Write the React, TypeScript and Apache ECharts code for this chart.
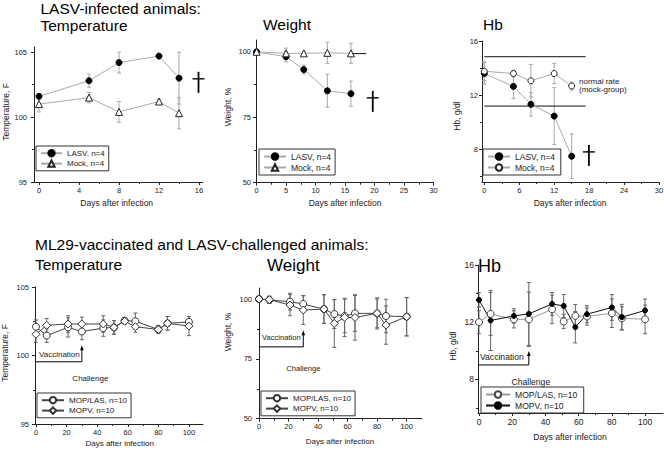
import React, { useEffect, useRef } from 'react';
import * as echarts from 'echarts';

// ---------- Top row: LASV-infected animals ----------
const tempDays = [0, 5, 8, 12, 14];
const tempLASV = [101.6, 102.8, 104.2, 104.7, 103.0];
const tempLASVErr = [0.2, 0.5, 0.8, 0.2, 2.0];
const tempMock = [101.0, 101.5, 100.4, 101.2, 100.3];
const tempMockErr = [0.6, 0.4, 0.8, 0.15, 1.2];
const tempDagger = [[15.95, 102.95]];

const weightDays = [0, 5, 8, 12, 16];
const weightLASV = [100, 98.1, 93.2, 85.1, 84.0];
const weightLASVErr = [0, 2.0, 1.7, 6.3, 4.8];
const weightMock = [100, 99.4, 99.4, 99.6, 99.4];
const weightMockErr = [0, 2.0, 0.6, 4.0, 3.8];
const weightDagger = [[19.7, 82.4]];
const weightRefLines = [[16, 18.6, 99.3]];

const hbDays = [0, 5, 8, 12, 15];
const hbLASV = [13.6, 12.65, 11.33, 10.46, 7.5];
const hbLASVErr = [0.8, 0.9, 0.87, 2.1, 1.65];
const hbMock = [13.77, 13.6, 13.07, 13.6, 12.68];
const hbMockErr = [0.7, 0.25, 1.2, 0.75, 0.3];
const hbDagger = [[17.96, 7.82]];
const hbRefLines = [[0, 17.4, 14.84], [0, 17.4, 11.2]];

// ---------- Bottom row: ML29-vaccinated and LASV-challenged ----------
const vDays = [0, 7, 21, 30, 44, 51, 58, 65, 80, 86, 100];
const vTempMOPLAS = [102.1, 101.45, 102.05, 101.75, 102.0, 102.05, 102.55, 102.5, 101.9, 102.35, 102.45];
const vTempMOPLASErr = [0.5, 0.5, 0.7, 0.6, 0.6, 0.5, 0.2, 0.6, 0.3, 0.5, 0.4];
const vTempMOPV = [101.55, 102.2, 102.3, 102.3, 102.3, 102.05, 102.5, 102.1, 101.9, 102.35, 102.15];
const vTempMOPVErr = [0.6, 0.5, 0.6, 0.5, 0.6, 0.5, 0.2, 0.4, 0.25, 0.5, 0.7];
const vTempAnnot = [[0, 30, 99.54, 100.75]];

const vWeightMOPLAS = [100, 99.6, 98.9, 97.9, 95.8, 93.7, 92.9, 94.0, 94.0, 92.9, 92.6];
const vWeightMOPLASErr = [0.3, 1.5, 3.5, 3.5, 6, 6, 7, 7.5, 6, 7, 8];
const vWeightMOPV = [100, 99.7, 97.5, 95.4, 95.8, 89.8, 92.3, 92.3, 94.0, 89.1, 92.6];
const vWeightMOPVErr = [0.3, 1.5, 4.5, 6, 6, 10, 8, 9.5, 6.5, 8, 8];
const vWeightAnnot = [[0, 30, 80.0, 87.0]];

const vHbMOPLAS = [12.0, 12.58, 12.2, 12.2, 12.9, 12.05, 12.44, 12.4, 12.63, 12.28, 12.2];
const vHbMOPLASErr = [0.8, 1.5, 0.6, 1.9, 1.0, 0.5, 0.8, 0.6, 1.0, 0.8, 1.0];
const vHbMOPV = [13.56, 12.12, 12.44, 12.58, 13.28, 13.14, 11.65, 12.56, 13.03, 12.35, 12.82];
const vHbMOPVErr = [0.5, 2.1, 0.5, 2.2, 0.8, 0.8, 1.1, 0.6, 0.9, 0.9, 0.8];
const vHbAnnot = [[0, 30, 9.01, 9.99]];

// ---------- Tick labels ----------
const tlXTicks = [0, 4, 8, 12, 16];
const tlXMinor = [2, 6, 10, 14];
const tmXTicks = [0, 5, 10, 15, 20, 25, 30];
const tmXMinor = [2.5, 7.5, 12.5, 17.5, 22.5, 27.5];
const trXTicks = [0, 6, 12, 18, 24, 30];
const trXMinor = [3, 9, 15, 21, 27];
const bXTicks = [0, 20, 40, 60, 80, 100];
const bXMinor = [10, 30, 50, 70, 90];
const tempYTicks = [95, 100, 105];
const tempYMinor = [97.5, 102.5];
const weightYTicks = [50, 75, 100];
const weightYMinor = [62.5, 87.5];
const hbYTicks = [8, 12, 16];
const hbYMinor = [6, 10, 14];

const FONT = '"Liberation Sans", Arial, Helvetica, sans-serif';
const TXT = '#1a1a1a';

const panels = [
  { grid: { left: 34, top: 47, width: 169, height: 135 }, x: { min: -0.5, max: 16.4, ticks: tlXTicks, minor: tlXMinor }, y: { min: 95, max: 105.4, ticks: tempYTicks, minor: tempYMinor }, yMargin: 7, fs: 7.5 },
  { grid: { left: 256, top: 40, width: 177.5, height: 142.7 }, x: { min: -0.1, max: 30, ticks: tmXTicks, minor: tmXMinor }, y: { min: 50, max: 104.5, ticks: weightYTicks, minor: weightYMinor }, yMargin: 5, fs: 7.5 },
  { grid: { left: 482, top: 41, width: 177, height: 141 }, x: { min: -0.4, max: 30, ticks: trXTicks, minor: trXMinor }, y: { min: 5.6, max: 16, ticks: hbYTicks, minor: hbYMinor }, yMargin: 4, fs: 7.5 },
  { grid: { left: 35, top: 287, width: 168, height: 137 }, x: { min: -0.65, max: 109.2, ticks: bXTicks, minor: bXMinor }, y: { min: 95, max: 105, ticks: tempYTicks, minor: tempYMinor }, yMargin: 6, fs: 7.5 },
  { grid: { left: 259, top: 288, width: 163, height: 130.7 }, x: { min: 0, max: 110.4, ticks: bXTicks, minor: bXMinor }, y: { min: 50, max: 104.6, ticks: weightYTicks, minor: weightYMinor }, yMargin: 7, fs: 7.5 },
  { grid: { left: 478, top: 265, width: 185, height: 148 }, x: { min: -0.6, max: 110.8, ticks: bXTicks, minor: bXMinor }, y: { min: 5.65, max: 16, ticks: hbYTicks, minor: hbYMinor }, yMargin: 4, fs: 8.5 },
];

const AX = '#222';

function buildAxes() {
  const xAxis: any[] = [];
  const yAxis: any[] = [];
  panels.forEach((p, i) => {
    const base = { type: 'value', gridIndex: i, splitLine: { show: false }, minorTick: { show: false } };
    xAxis.push({
      ...base, position: 'bottom', min: p.x.min, max: p.x.max,
      axisLine: { show: true, onZero: false, lineStyle: { color: AX, width: 1 } },
      axisTick: { show: true, length: 3, customValues: p.x.ticks, lineStyle: { color: AX } },
      axisLabel: { show: true, customValues: p.x.ticks, fontSize: p.fs, margin: 4, color: TXT, fontFamily: FONT },
    });
    xAxis.push({
      ...base, position: 'bottom', min: p.x.min, max: p.x.max,
      axisLine: { show: false, onZero: false },
      axisTick: { show: true, length: 2, customValues: p.x.minor, lineStyle: { color: AX } },
      axisLabel: { show: false },
    });
    yAxis.push({
      ...base, position: 'left', min: p.y.min, max: p.y.max,
      axisLine: { show: true, onZero: false, lineStyle: { color: AX, width: 1 } },
      axisTick: { show: true, length: 3, customValues: p.y.ticks, lineStyle: { color: AX } },
      axisLabel: { show: true, customValues: p.y.ticks, fontSize: p.fs, margin: p.yMargin, color: TXT, fontFamily: FONT },
    });
    yAxis.push({
      ...base, position: 'left', min: p.y.min, max: p.y.max,
      axisLine: { show: false, onZero: false },
      axisTick: { show: true, length: 2, customValues: p.y.minor, lineStyle: { color: AX } },
      axisLabel: { show: false },
    });
  });
  return { xAxis, yAxis };
}

function lineSeries(gi: number, name: string, days: number[], vals: number[], symbol: string, size: number, fill: string, border: string, lineColor: string) {
  return {
    type: 'line', name, xAxisIndex: gi * 2, yAxisIndex: gi * 2, z: 3,
    data: days.map((d, j) => [d, vals[j]]),
    symbol, symbolSize: size, showSymbol: true,
    itemStyle: { color: fill, borderColor: border, borderWidth: 1 },
    lineStyle: { color: lineColor, width: 1 },
    emphasis: { disabled: true }, silent: true,
  };
}

function errSeries(gi: number, days: number[], vals: number[], errs: number[], color: string) {
  return {
    type: 'custom', xAxisIndex: gi * 2, yAxisIndex: gi * 2, z: 1, silent: true,
    data: days.map((d, j) => [d, vals[j] - errs[j], vals[j] + errs[j]]),
    renderItem: (params: any, api: any) => {
      const lo = api.coord([api.value(0), api.value(1)]);
      const hi = api.coord([api.value(0), api.value(2)]);
      const w = 2;
      const st = { stroke: color, lineWidth: 1 };
      return {
        type: 'group', children: [
          { type: 'line', shape: { x1: lo[0], y1: lo[1], x2: hi[0], y2: hi[1] }, style: st },
          { type: 'line', shape: { x1: lo[0] - w, y1: lo[1], x2: lo[0] + w, y2: lo[1] }, style: st },
          { type: 'line', shape: { x1: hi[0] - w, y1: hi[1], x2: hi[0] + w, y2: hi[1] }, style: st },
        ],
      };
    },
  };
}

function daggerSeries(gi: number, pts: number[][]) {
  return {
    type: 'custom', xAxisIndex: gi * 2, yAxisIndex: gi * 2, z: 4, silent: true,
    data: pts,
    renderItem: (params: any, api: any) => {
      const p = api.coord([api.value(0), api.value(1)]);
      return {
        type: 'group', children: [
          { type: 'line', shape: { x1: p[0], y1: p[1] - 7, x2: p[0], y2: p[1] + 14 }, style: { stroke: '#000', lineWidth: 1.8 } },
          { type: 'line', shape: { x1: p[0] - 6, y1: p[1], x2: p[0] + 6, y2: p[1] }, style: { stroke: '#000', lineWidth: 1.4 } },
        ],
      };
    },
  };
}

function refLineSeries(gi: number, lines: number[][]) {
  return {
    type: 'custom', xAxisIndex: gi * 2, yAxisIndex: gi * 2, z: 2, silent: true,
    data: lines,
    renderItem: (params: any, api: any) => {
      const a = api.coord([api.value(0), api.value(2)]);
      const b = api.coord([api.value(1), api.value(2)]);
      return { type: 'line', shape: { x1: a[0], y1: a[1], x2: b[0], y2: b[1] }, style: { stroke: '#111', lineWidth: 1 } };
    },
  };
}

function annotSeries(gi: number, ann: number[][], fs: number, vOff: number[], cOff: number[]) {
  return {
    type: 'custom', xAxisIndex: gi * 2, yAxisIndex: gi * 2, z: 4, silent: true,
    data: ann,
    renderItem: (params: any, api: any) => {
      const a = api.coord([api.value(0), api.value(2)]);
      const b = api.coord([api.value(1), api.value(2)]);
      const t = api.coord([api.value(1), api.value(3)]);
      const st = { stroke: '#000', lineWidth: 1 };
      const tx = { fontSize: fs, fontFamily: FONT, fontWeight: 'normal', fill: TXT, verticalAlign: 'middle' };
      return {
        type: 'group', children: [
          { type: 'line', shape: { x1: a[0], y1: a[1], x2: b[0], y2: b[1] }, style: st },
          { type: 'line', shape: { x1: b[0], y1: b[1], x2: t[0], y2: t[1] + 4 }, style: st },
          { type: 'polygon', shape: { points: [[t[0], t[1]], [t[0] - 1.8, t[1] + 5], [t[0] + 1.8, t[1] + 5]] }, style: { fill: '#000' } },
          { type: 'text', x: a[0] + vOff[0], y: a[1] + vOff[1], style: { ...tx, text: 'Vaccination', align: 'left' } },
          { type: 'text', x: b[0] + cOff[0], y: b[1] + cOff[1], style: { ...tx, text: 'Challenge', align: 'center' } },
        ],
      };
    },
  };
}

function legend(left: number, top: number, names: string[], fs: number, iw: number) {
  return {
    show: true, orient: 'vertical', left, top, data: names, selectedMode: false,
    padding: [3, 4, 3, 4], itemGap: 2, itemWidth: iw, itemHeight: 8,
    borderColor: '#333', borderWidth: 1, borderRadius: 0, backgroundColor: '#fff',
    textStyle: { fontSize: fs, color: TXT, fontFamily: FONT, padding: [0, 0, 0, 0] },
    z: 5,
  };
}

function text(t: string, x: number, y: number, fs: number, opts: any = {}) {
  return {
    type: 'text', x, y, rotation: opts.rotation || 0, z: 10,
    style: { text: t, fontSize: fs, fontFamily: FONT, fontWeight: 'normal', fill: opts.fill || TXT, align: opts.align || 'left', verticalAlign: 'middle' },
  };
}

function buildOption() {
  const { xAxis, yAxis } = buildAxes();
  const TOP_LINE = '#aaa';
  const TOP_ERR = '#a8a8a8';
  const BOT_LINE = '#444';
  const BOT_ERR = '#666';
  const series: any[] = [
    // Panel 0: temperature
    errSeries(0, tempDays, tempLASV, tempLASVErr, TOP_ERR),
    errSeries(0, tempDays, tempMock, tempMockErr, TOP_ERR),
    lineSeries(0, 'LASV, n=4', tempDays, tempLASV, 'circle', 6, '#000', '#000', TOP_LINE),
    lineSeries(0, 'Mock, n=4', tempDays, tempMock, 'triangle', 7, '#fff', '#222', TOP_LINE),
    daggerSeries(0, tempDagger),
    // Panel 1: weight
    errSeries(1, weightDays, weightLASV, weightLASVErr, TOP_ERR),
    errSeries(1, weightDays, weightMock, weightMockErr, TOP_ERR),
    refLineSeries(1, weightRefLines),
    lineSeries(1, 'LASV, n=4', weightDays, weightLASV, 'circle', 6, '#000', '#000', TOP_LINE),
    lineSeries(1, 'Mock, n=4', weightDays, weightMock, 'triangle', 7, '#fff', '#222', TOP_LINE),
    daggerSeries(1, weightDagger),
    // Panel 2: Hb
    errSeries(2, hbDays, hbLASV, hbLASVErr, TOP_ERR),
    errSeries(2, hbDays, hbMock, hbMockErr, TOP_ERR),
    refLineSeries(2, hbRefLines),
    lineSeries(2, 'LASV, n=4', hbDays, hbLASV, 'circle', 6, '#000', '#000', TOP_LINE),
    lineSeries(2, 'Mock, n=4 ', hbDays, hbMock, 'circle', 6, '#fff', '#222', TOP_LINE),
    daggerSeries(2, hbDagger),
    // Panel 3: vacc temperature
    errSeries(3, vDays, vTempMOPLAS, vTempMOPLASErr, BOT_ERR),
    errSeries(3, vDays, vTempMOPV, vTempMOPVErr, BOT_ERR),
    lineSeries(3, 'MOP/LAS, n=10', vDays, vTempMOPLAS, 'circle', 7, '#fff', '#333', BOT_LINE),
    lineSeries(3, 'MOPV, n=10', vDays, vTempMOPV, 'diamond', 8, '#fff', '#333', BOT_LINE),
    annotSeries(3, vTempAnnot, 8, [3, -7], [8.5, 17]),
    // Panel 4: vacc weight
    errSeries(4, vDays, vWeightMOPLAS, vWeightMOPLASErr, BOT_ERR),
    errSeries(4, vDays, vWeightMOPV, vWeightMOPVErr, BOT_ERR),
    lineSeries(4, 'MOP/LAS, n=10', vDays, vWeightMOPLAS, 'circle', 7, '#fff', '#333', BOT_LINE),
    lineSeries(4, 'MOPV, n=10', vDays, vWeightMOPV, 'diamond', 8, '#fff', '#333', BOT_LINE),
    annotSeries(4, vWeightAnnot, 7.6, [3, -9], [0, 22]),
    // Panel 5: vacc Hb
    errSeries(5, vDays, vHbMOPLAS, vHbMOPLASErr, BOT_ERR),
    errSeries(5, vDays, vHbMOPV, vHbMOPVErr, BOT_ERR),
    lineSeries(5, 'MOP/LAS, n=10 ', vDays, vHbMOPLAS, 'circle', 7, '#fff', '#444', '#999'),
    lineSeries(5, 'MOPV, n=10 ', vDays, vHbMOPV, 'circle', 5, '#000', '#000', '#111'),
    annotSeries(5, vHbAnnot, 8.6, [1, -8], [2, 17]),
  ];

  const rot = Math.PI / 2;
  const graphic = [
    text('LASV-infected animals:', 40.5, 8.7, 15.5, { fill: '#000' }),
    text('Temperature', 40.5, 25.5, 15.5, { fill: '#000' }),
    text('Weight', 263, 24.7, 15.5, { fill: '#000' }),
    text('Hb', 483, 24.2, 15.5, { fill: '#000' }),
    text('ML29-vaccinated and LASV-challenged animals:', 35, 244.7, 15.5, { fill: '#000' }),
    text('Temperature', 35, 264, 15.5, { fill: '#000' }),
    text('Weight', 267, 265, 17, { fill: '#000' }),
    text('Hb', 478, 266, 18, { fill: '#000' }),
    text('normal rate', 579, 81.7, 8),
    text('(mock-group)', 579, 89.3, 8),
    text('Days after infection', 116.7, 203, 8.5, { align: 'center' }),
    text('Days after infection', 345, 203, 8.5, { align: 'center' }),
    text('Days after infection', 570, 203, 8.5, { align: 'center' }),
    text('Days after infection', 119.7, 443, 8, { align: 'center' }),
    text('Days after infection', 340, 441, 8, { align: 'center' }),
    text('Days after infection', 570, 437, 8.6, { align: 'center' }),
    text('Temperature, F', 6, 112, 8.5, { align: 'center', rotation: rot }),
    text('Weight, %', 228, 107, 8.5, { align: 'center', rotation: rot }),
    text('Hb, g/dl', 457, 116, 8.5, { align: 'center', rotation: rot }),
    text('Temperature, F', 5, 353, 8.5, { align: 'center', rotation: rot }),
    text('Weight, %', 228, 332, 8.5, { align: 'center', rotation: rot }),
    text('Hb, g/dl', 453, 346, 8.5, { align: 'center', rotation: rot }),
  ];

  return {
    animation: false,
    backgroundColor: '#fff',
    textStyle: { fontFamily: FONT },
    grid: panels.map((p) => ({ ...p.grid, containLabel: false, outerBoundsMode: 'none' })),
    xAxis, yAxis,
    legend: [
      legend(36, 146, ['LASV, n=4', 'Mock, n=4'], 8, 21),
      legend(259, 149, ['LASV, n=4', 'Mock, n=4'], 8.5, 22),
      legend(483, 149, ['LASV, n=4', 'Mock, n=4 '], 8.5, 22),
      legend(37, 393, ['MOP/LAS, n=10', 'MOPV, n=10'], 8, 22),
      legend(261, 391, ['MOP/LAS, n=10', 'MOPV, n=10'], 8, 22),
      legend(481, 387, ['MOP/LAS, n=10 ', 'MOPV, n=10 '], 8.6, 24),
    ],
    series,
    graphic,
  };
}

export default function App() {
  const ref = useRef<HTMLDivElement>(null);
  useEffect(() => {
    if (!ref.current) return;
    const chart = echarts.init(ref.current, undefined, { renderer: 'svg' });
    chart.setOption(buildOption() as any);
    return () => chart.dispose();
  }, []);
  return <div ref={ref} style={{ position: 'fixed', left: 0, top: 0, width: 664, height: 450, background: '#fff' }} />;
}
